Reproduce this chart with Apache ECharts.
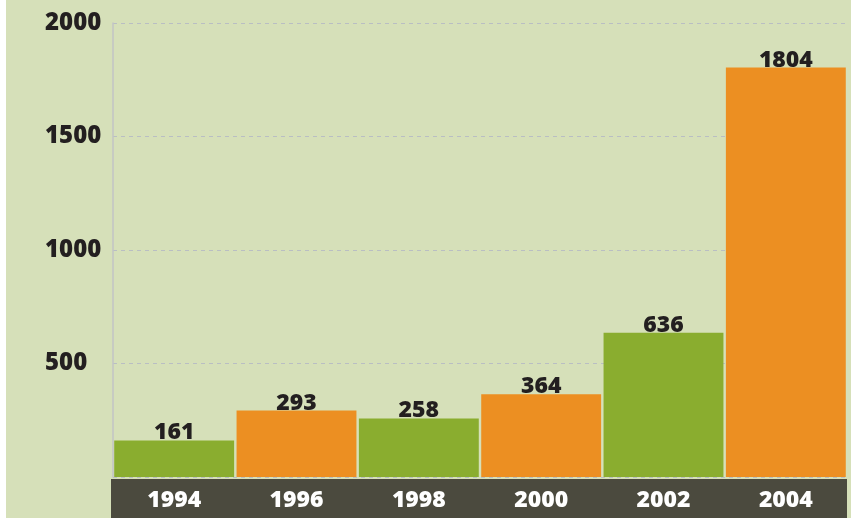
<!DOCTYPE html>
<html><head><meta charset="utf-8">
<script src="https://cdn.jsdelivr.net/npm/echarts@6/dist/echarts.min.js"></script>
<style>html,body{margin:0;padding:0;background:#fff;}#chart{position:absolute;left:6px;top:0;width:845px;height:518px;}</style>
</head><body><div id="chart"></div>
<script>
var years = ['1994','1996','1998','2000','2002','2004'];
var values = [161, 293, 258, 364, 636, 1804];
var barColors = ['#8aad2f','#ec8f22','#8aad2f','#ec8f22','#8aad2f','#ec8f22'];
var yTicks = [500, 1000, 1500, 2000];

var chart = echarts.init(document.getElementById('chart'));
var font = '"Noto Sans", "DejaVu Sans", sans-serif';
chart.setOption({
  backgroundColor: '#d6e0b9',
  animation: false,
  grid: {left: 107, right: 4, top: 23, bottom: 41},
  graphic: [{type:'rect', z:-1, shape:{x:105, y:479, width:736, height:39}, style:{fill:'#4b4a3e'}}],
  xAxis: {type:'category', data: years,
    axisLine:{show:false}, axisTick:{show:false},
    axisLabel:{color:'#fff', fontFamily:font, fontWeight:900, fontSize:23, margin:12}},
  yAxis: {type:'value', min:0, max:2000, interval:500,
    axisLine:{show:true, lineStyle:{color:'#c2c5c6', width:1.5}}, axisTick:{show:false},
    splitLine:{lineStyle:{color:'#b9bec3', type:[4,4]}},
    axisLabel:{color:'#231f20', fontFamily:font, fontWeight:900, fontSize:24, align:'left', margin:68,
      formatter:function(v){return yTicks.indexOf(v)>=0 ? String(v) : '';}}},
  series: [{type:'bar', barCategoryGap:'2%',
    data: values.map(function(v,i){return {value:v, itemStyle:{color:barColors[i]}};}),
    label:{show:true, position:'top', distance:-4, color:'#231f20', fontFamily:font, fontWeight:900, fontSize:23}}]
});
</script></body></html>
